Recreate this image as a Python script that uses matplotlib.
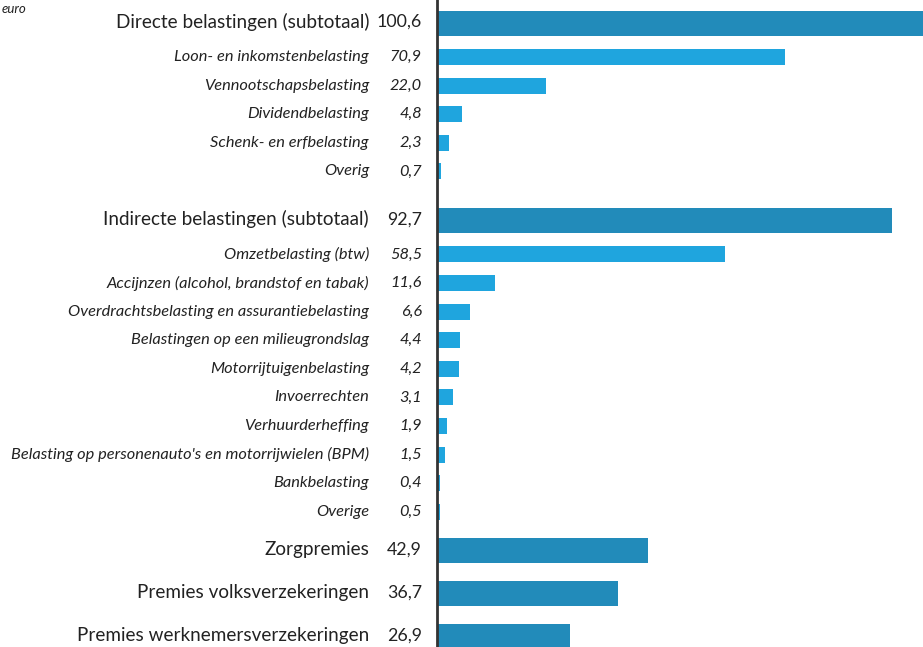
import matplotlib
matplotlib.use("Agg")
import matplotlib.pyplot as plt
import matplotlib.transforms as mtransforms

plt.rcParams['font.family'] = ['Lato', 'DejaVu Sans']

# Data
directe_label = "Directe belastingen (subtotaal)"
directe_total = 100.6
directe_items = ["Loon- en inkomstenbelasting", "Vennootschapsbelasting",
                 "Dividendbelasting", "Schenk- en erfbelasting", "Overig"]
directe_values = [70.9, 22.0, 4.8, 2.3, 0.7]

indirecte_label = "Indirecte belastingen (subtotaal)"
indirecte_total = 92.7
indirecte_items = ["Omzetbelasting (btw)", "Accijnzen (alcohol, brandstof en tabak)",
                   "Overdrachtsbelasting en assurantiebelasting",
                   "Belastingen op een milieugrondslag", "Motorrijtuigenbelasting",
                   "Invoerrechten", "Verhuurderheffing",
                   "Belasting op personenauto's en motorrijwielen (BPM)",
                   "Bankbelasting", "Overige"]
indirecte_values = [58.5, 11.6, 6.6, 4.4, 4.2, 3.1, 1.9, 1.5, 0.4, 0.5]

premie_labels = ["Zorgpremies", "Premies volksverzekeringen", "Premies werknemersverzekeringen"]
premie_values = [42.9, 36.7, 26.9]

unit_label = "euro"

DARK = "#228bba"
LIGHT = "#1fa5de"
TEXT = "#222222"

# Layout (pixel-like units, top = 0)
W, H = 923, 647
axis_x = 438
px_per_unit = 4.9
y_start = 23
gap_sub_first = 34
gap_sub = 28.6
gap_group = 49
gap_to_premie = 39
gap_premie = 43

rows = []  # (label, value, kind)
rows.append((directe_label, directe_total, 'total'))
rows += [(l, v, 'sub') for l, v in zip(directe_items, directe_values)]
rows.append((indirecte_label, indirecte_total, 'total'))
rows += [(l, v, 'sub') for l, v in zip(indirecte_items, indirecte_values)]
rows += [(l, v, 'premie') for l, v in zip(premie_labels, premie_values)]

ys = []
y = y_start
prev = None
for label, v, kind in rows:
    if prev is not None:
        if prev == 'total' and kind == 'sub':
            y += gap_sub_first
        elif prev == 'sub' and kind == 'sub':
            y += gap_sub
        elif prev == 'sub' and kind == 'total':
            y += gap_group
        elif prev == 'sub' and kind == 'premie':
            y += gap_to_premie
        else:
            y += gap_premie
    ys.append(y)
    prev = kind

fig = plt.figure(figsize=(W / 100, H / 100), dpi=100)
ax = fig.add_axes([axis_x / W, 0, 1 - axis_x / W, 1])
ax.set_xlim(0, (W - axis_x) / px_per_unit)
ax.set_ylim(H, 0)
ax.axis('off')

for (label, v, kind), yy in zip(rows, ys):
    if kind == 'sub':
        h, color = 16, LIGHT
    else:
        h, color = 25, DARK
    ax.barh(yy, v, height=h, color=color, edgecolor='none', zorder=2)

# axis line just left of the bar baseline
shift = mtransforms.ScaledTranslation(-1.0 / 100, 0, fig.dpi_scale_trans)
ax.plot([0, 0], [0, 1], color="#333333", lw=2, zorder=3, clip_on=False,
        transform=ax.get_xaxis_transform() + shift)

for (label, v, kind), yy in zip(rows, ys):
    val = f"{v:.1f}".replace('.', ',')
    if kind == 'sub':
        fig.text(369 / W, 1 - yy / H, label, ha='right', va='center',
                 fontsize=11.8, style='italic', color=TEXT)
        fig.text(422 / W, 1 - yy / H, val, ha='right', va='center',
                 fontsize=11.8, style='italic', color=TEXT)
    else:
        fig.text(369 / W, 1 - (yy - 1) / H, label, ha='right', va='center',
                 fontsize=13.6, color=TEXT)
        fig.text(422 / W, 1 - (yy - 1) / H, val, ha='right', va='center',
                 fontsize=12.8, color=TEXT)

fig.text(2 / W, 1 - 9 / H, unit_label, ha='left', va='center',
         fontsize=9.5, style='italic', color=TEXT)

fig.savefig("out.png", dpi=100)
